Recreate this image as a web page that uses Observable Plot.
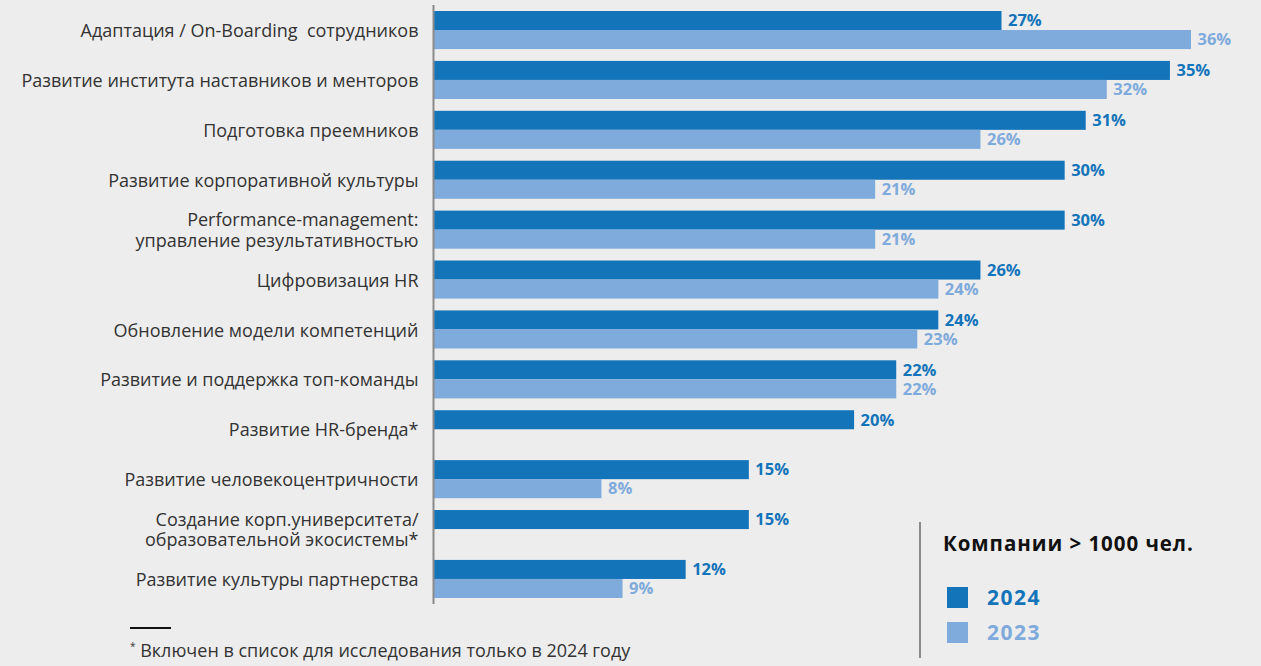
<!DOCTYPE html>
<html><head><meta charset="utf-8">
<script src="https://cdn.jsdelivr.net/npm/d3@7"></script>
<script src="https://cdn.jsdelivr.net/npm/@observablehq/plot@0.6"></script>
<style>
html,body{margin:0;padding:0;background:#ededed;}
#wrap{position:relative;width:1261px;height:666px;overflow:hidden;font-family:"Open Sans",sans-serif;}
#chart{position:absolute;left:0;top:0;}
#legend{position:absolute;left:919px;top:522px;width:330px;height:136px;border-left:2px solid #8a8a8a;}
#legend .title{position:absolute;left:22px;top:7px;font-weight:700;font-size:20.5px;letter-spacing:0.95px;color:#111;white-space:nowrap;}
#legend .item{position:absolute;left:26px;height:22px;display:flex;align-items:center;white-space:nowrap;}
#legend .sw{width:21px;height:21px;margin-right:19px;}
#legend .lbl{font-weight:700;font-size:21px;letter-spacing:1.5px;}
#foot{position:absolute;left:130px;top:638px;font-size:18px;color:#333;white-space:nowrap;}
#footline{position:absolute;left:130px;top:627px;width:41px;height:2px;background:#111;}
</style></head><body>
<div id="wrap">
<div id="chart"></div>
<div id="legend"></div>
<div id="footline"></div>
<div id="foot"><sup style="font-size:10px">*</sup> Включен в список для исследования только в 2024 году</div>
</div>
<script>
const categories = [
  "Адаптация / On-Boarding  сотрудников",
  "Развитие института наставников и менторов",
  "Подготовка преемников",
  "Развитие корпоративной культуры",
  "Performance-management:\nуправление результативностью",
  "Цифровизация HR",
  "Обновление модели компетенций",
  "Развитие и поддержка топ-команды",
  "Развитие HR-бренда*",
  "Развитие человекоцентричности",
  "Создание корп.университета/\nобразовательной экосистемы*",
  "Развитие культуры партнерства"
];
const values2024 = [27, 35, 31, 30, 30, 26, 24, 22, 20, 15, 15, 12];
const values2023 = [36, 32, 26, 21, 21, 24, 23, 22, null, 8, null, 9];
const years = ["2024", "2023"];
const colors = ["#1474ba", "#7eaadc"];
const legendTitle = "Компании > 1000 чел.";

const data = categories.flatMap((c, i) => [
  {category: c, year: "2024", value: values2024[i]},
  {category: c, year: "2023", value: values2023[i]}
]).filter(d => d.value != null);

const chart = Plot.plot({
  width: 1261,
  height: 610,
  marginLeft: 433,
  marginRight: 70,
  marginTop: 11,
  marginBottom: 12,
  style: {background: "transparent", fontFamily: "'Open Sans', sans-serif", fontSize: "18px", color: "#333"},
  x: {domain: [0, 36], axis: null},
  y: {domain: years, axis: null, paddingInner: 0, paddingOuter: 0, round: false},
  fy: {domain: categories, paddingInner: 0.237, paddingOuter: 0, round: false, axis: null},
  color: {domain: years, range: colors},
  marks: [
    Plot.axisFy({anchor: "left", label: null, tickSize: 0, tickPadding: 15, fontSize: 18, lineHeight: 1.14, fill: "#333"}),
    Plot.barX(data, {fy: "category", y: "year", x: "value", fill: "year"}),
    Plot.text(data, {fy: "category", y: "year", x: "value", text: d => d.value + "%", textAnchor: "start", dx: 6, fill: "year", fontWeight: "bold", fontSize: 16.5}),
    Plot.ruleX([0], {stroke: "#8a8a8a", strokeWidth: 2, insetTop: -6, insetBottom: -6})
  ]
});
document.getElementById("chart").appendChild(chart);

const legend = document.getElementById("legend");
const t = document.createElement("div");
t.className = "title"; t.textContent = legendTitle; legend.appendChild(t);
years.forEach((y, i) => {
  const it = document.createElement("div");
  it.className = "item";
  it.style.top = (64 + i * 35) + "px";
  it.innerHTML = `<div class="sw" style="background:${colors[i]}"></div><div class="lbl" style="color:${colors[i]}">${y}</div>`;
  legend.appendChild(it);
});
</script>
</body></html>
